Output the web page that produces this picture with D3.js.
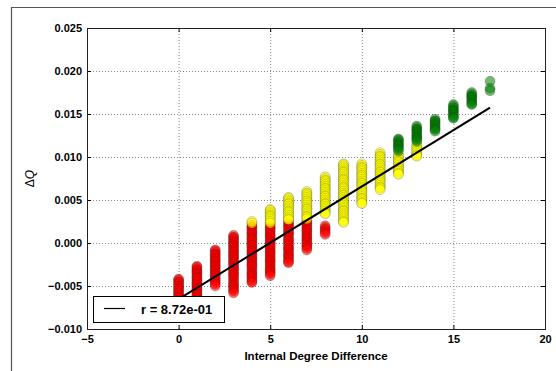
<!DOCTYPE html>
<meta charset="utf-8">
<script src="https://d3js.org/d3.v7.min.js"></script>
<style>
  body { margin: 0; background: #fff; }
  text { font-family: "Liberation Sans", Arial, sans-serif; }
</style>
<div id="chart"></div>
<script>

// x categories (internal degree difference)
var degreeDiff = [0, 1, 2, 3, 4, 5, 6, 7, 8, 9, 10, 11, 12, 13, 14, 15, 16, 17];

// delta Q values per column, one list per colour group
var redQ = [
  [-0.0042, -0.0043, -0.0045, -0.0046, -0.0048, -0.0050, -0.0051, -0.0053, -0.0054, -0.0056, -0.0058, -0.0059, -0.0061, -0.0063, -0.0064, -0.0066, -0.0068],
  [-0.0027, -0.0028, -0.0030, -0.0032, -0.0033, -0.0035, -0.0036, -0.0038, -0.0040, -0.0041, -0.0043, -0.0045, -0.0046, -0.0048, -0.0049, -0.0051, -0.0053, -0.0054, -0.0056, -0.0058, -0.0060, -0.0061, -0.0063, -0.0065, -0.0066],
  [-0.0008, -0.0009, -0.0011, -0.0013, -0.0014, -0.0016, -0.0018, -0.0019, -0.0021, -0.0022, -0.0024, -0.0026, -0.0027, -0.0029, -0.0031, -0.0032, -0.0034, -0.0036, -0.0037, -0.0039, -0.0041, -0.0043, -0.0044, -0.0046, -0.0048, -0.0050],
  [0.0009, 0.0007, 0.0006, 0.0004, 0.0002, 0.0001, -0.0001, -0.0003, -0.0004, -0.0006, -0.0008, -0.0010, -0.0011, -0.0013, -0.0015, -0.0016, -0.0018, -0.0020, -0.0022, -0.0023, -0.0025, -0.0027, -0.0029, -0.0030, -0.0032, -0.0034, -0.0036, -0.0037, -0.0039, -0.0041, -0.0043, -0.0045, -0.0047, -0.0049, -0.0050, -0.0052, -0.0054, -0.0056, -0.0058],
  [0.0021, 0.0019, 0.0018, 0.0016, 0.0014, 0.0012, 0.0011, 0.0009, 0.0007, 0.0005, 0.0004, 0.0002, 0.0000, -0.0002, -0.0003, -0.0005, -0.0007, -0.0009, -0.0010, -0.0012, -0.0014, -0.0016, -0.0018, -0.0019, -0.0021, -0.0023, -0.0025, -0.0026, -0.0028, -0.0030, -0.0032, -0.0034, -0.0036, -0.0037, -0.0039, -0.0041, -0.0043, -0.0045, -0.0046],
  [0.0022, 0.0020, 0.0018, 0.0017, 0.0015, 0.0013, 0.0011, 0.0009, 0.0008, 0.0006, 0.0004, 0.0002, 0.0000, -0.0001, -0.0003, -0.0005, -0.0007, -0.0009, -0.0010, -0.0012, -0.0014, -0.0016, -0.0018, -0.0020, -0.0021, -0.0023, -0.0025, -0.0027, -0.0029, -0.0031, -0.0032, -0.0034, -0.0036, -0.0038],
  [0.0025, 0.0023, 0.0021, 0.0020, 0.0018, 0.0016, 0.0014, 0.0012, 0.0011, 0.0009, 0.0007, 0.0005, 0.0003, 0.0002, 0.0000, -0.0002, -0.0004, -0.0006, -0.0007, -0.0009, -0.0011, -0.0013, -0.0015, -0.0016, -0.0018, -0.0020, -0.0022, -0.0023],
  [0.0026, 0.0024, 0.0023, 0.0021, 0.0019, 0.0017, 0.0015, 0.0014, 0.0012, 0.0010, 0.0008, 0.0006, 0.0005, 0.0003, 0.0001, -0.0001, -0.0003, -0.0004, -0.0006, -0.0008],
  [0.0020, 0.0018, 0.0016, 0.0014, 0.0012, 0.0010],
  [], [], [], [], [], [], [], [], []
];

var yellowQ = [
  [], [], [], [],
  [0.0025, 0.0023],
  [0.0039, 0.0038, 0.0036, 0.0034, 0.0032, 0.0031, 0.0029, 0.0027, 0.0025, 0.0023],
  [0.0053, 0.0052, 0.0050, 0.0048, 0.0046, 0.0045, 0.0043, 0.0041, 0.0039, 0.0037, 0.0036, 0.0034, 0.0032, 0.0030, 0.0028, 0.0027],
  [0.0060, 0.0058, 0.0057, 0.0055, 0.0053, 0.0051, 0.0049, 0.0048, 0.0046, 0.0044, 0.0042, 0.0040, 0.0039, 0.0037, 0.0035, 0.0033, 0.0031, 0.0030, 0.0028],
  [0.0077, 0.0075, 0.0073, 0.0072, 0.0070, 0.0068, 0.0066, 0.0064, 0.0063, 0.0061, 0.0059, 0.0057, 0.0055, 0.0054, 0.0052, 0.0050, 0.0048, 0.0046, 0.0045, 0.0043, 0.0041, 0.0039, 0.0037, 0.0035, 0.0034],
  [0.0092, 0.0091, 0.0089, 0.0087, 0.0085, 0.0083, 0.0082, 0.0080, 0.0078, 0.0076, 0.0074, 0.0073, 0.0071, 0.0069, 0.0067, 0.0065, 0.0064, 0.0062, 0.0060, 0.0058, 0.0056, 0.0055, 0.0053, 0.0051, 0.0049, 0.0047, 0.0046, 0.0044, 0.0042, 0.0040, 0.0038, 0.0037, 0.0035, 0.0033, 0.0031, 0.0029, 0.0027, 0.0025, 0.0024],
  [0.0092, 0.0090, 0.0088, 0.0087, 0.0085, 0.0083, 0.0081, 0.0079, 0.0078, 0.0076, 0.0074, 0.0072, 0.0070, 0.0069, 0.0067, 0.0065, 0.0063, 0.0061, 0.0060, 0.0058, 0.0056, 0.0054, 0.0052, 0.0051, 0.0049, 0.0047, 0.0046],
  [0.0105, 0.0103, 0.0101, 0.0100, 0.0098, 0.0096, 0.0094, 0.0092, 0.0091, 0.0089, 0.0087, 0.0085, 0.0083, 0.0082, 0.0080, 0.0078, 0.0076, 0.0074, 0.0073, 0.0071, 0.0069, 0.0067, 0.0065, 0.0064, 0.0062],
  [0.0103, 0.0101, 0.0099, 0.0097, 0.0095, 0.0094, 0.0092, 0.0090, 0.0088, 0.0086, 0.0084, 0.0083, 0.0081, 0.0080],
  [0.0114, 0.0112, 0.0110, 0.0108, 0.0106, 0.0104, 0.0102, 0.0101],
  [], [], [], []
];

var greenQ = [
  [], [], [], [], [], [], [], [], [], [], [], [],
  [0.0121, 0.0120, 0.0118, 0.0116, 0.0114, 0.0113, 0.0111, 0.0109, 0.0107],
  [0.0136, 0.0134, 0.0132, 0.0131, 0.0129, 0.0127, 0.0125, 0.0123, 0.0122, 0.0120, 0.0118],
  [0.0144, 0.0142, 0.0141, 0.0139, 0.0137, 0.0135, 0.0133, 0.0132, 0.0130],
  [0.0161, 0.0159, 0.0157, 0.0155, 0.0154, 0.0152, 0.0150, 0.0148, 0.0146, 0.0145],
  [0.0175, 0.0173, 0.0171, 0.0170, 0.0168, 0.0166, 0.0164, 0.0162, 0.0161],
  [0.0188, 0.0180, 0.0177]
];

// fitted line
var fitSlope = 0.00131;
var fitIntercept = -0.00652;
var fitRange = [0, 17];
var fitLabel = "r = 8.72e-01";

var xTicks = [-5, 0, 5, 10, 15, 20];
var yTicks = [-0.010, -0.005, 0.000, 0.005, 0.010, 0.015, 0.020, 0.025];

var W = 556, H = 371;
var margin = {top: 28, right: 11, bottom: 42, left: 87},
  width = W - margin.left - margin.right,
  height = H - margin.top - margin.bottom;

var root = d3.select("#chart").append("svg")
  .attr("width", W)
  .attr("height", H);

// figure frame
root.append("path")
  .attr("d", "M11.5," + H + "V7.5H" + W)
  .attr("fill", "none")
  .attr("stroke", "#555")
  .attr("stroke-width", 1.2);

var svg = root.append("g")
  .attr("transform", "translate(" + margin.left + "," + margin.top + ")");

var x = d3.scaleLinear().domain([-5, 20]).range([0, width]);
var y = d3.scaleLinear().domain([-0.010, 0.025]).range([height, 0]);

// grid
svg.append("g")
  .attr("class", "grid")
  .attr("transform", "translate(0," + height + ")")
  .call(d3.axisBottom(x).tickValues(xTicks).tickSize(-height).tickFormat(""))
svg.append("g")
  .attr("class", "grid")
  .call(d3.axisLeft(y).tickValues(yTicks).tickSize(-width).tickFormat(""))
svg.selectAll(".grid .domain").remove();
svg.selectAll(".grid line")
  .attr("stroke", "#888")
  .attr("stroke-width", 1)
  .attr("stroke-dasharray", "1,2");

// points
var groups = [
  {color: "red", values: redQ},
  {color: "yellow", values: yellowQ},
  {color: "green", values: greenQ}
];
groups.forEach(function(g) {
  var pts = [];
  g.values.forEach(function(col, i) {
    col.forEach(function(q) { pts.push({x: degreeDiff[i], q: q}); });
  });
  svg.append("g").selectAll("circle")
    .data(pts)
    .enter()
    .append("circle")
      .attr("cx", function(d) { return x(d.x); })
      .attr("cy", function(d) { return y(d.q); })
      .attr("r", 5)
      .attr("fill", g.color)
      .attr("fill-opacity", 0.55)
      .attr("stroke", "black")
      .attr("stroke-opacity", 0.18)
      .attr("stroke-width", 1);
});

// fit line
svg.append("line")
  .attr("x1", x(fitRange[0]))
  .attr("y1", y(fitIntercept + fitSlope * fitRange[0]))
  .attr("x2", x(fitRange[1]))
  .attr("y2", y(fitIntercept + fitSlope * fitRange[1]))
  .attr("stroke", "black")
  .attr("stroke-width", 2);

// axes with inward ticks on all sides
function styleAxis(sel) {
  sel.select(".domain").remove();
  sel.selectAll("line").attr("stroke", "#000");
  sel.selectAll("text")
    .attr("font-family", "Liberation Sans, Arial, sans-serif")
    .attr("font-weight", "bold")
    .attr("font-size", 11)
    .attr("fill", "#000");
}
var fmtY = d3.format(".3f");
svg.append("g")
  .attr("transform", "translate(0," + height + ")")
  .call(d3.axisBottom(x).tickValues(xTicks).tickSize(-4).tickPadding(6).tickFormat(d3.format("d")))
  .call(styleAxis);
svg.append("g")
  .call(d3.axisTop(x).tickValues(xTicks).tickSize(-4).tickFormat(""))
  .call(styleAxis);
svg.append("g")
  .call(d3.axisLeft(y).tickValues(yTicks).tickSize(-4).tickPadding(5).tickFormat(fmtY))
  .call(styleAxis);
svg.append("g")
  .attr("transform", "translate(" + width + ",0)")
  .call(d3.axisRight(y).tickValues(yTicks).tickSize(-4).tickFormat(""))
  .call(styleAxis);

// plot border
svg.append("rect")
  .attr("x", 0.5).attr("y", 0.5)
  .attr("width", width).attr("height", height)
  .attr("fill", "none")
  .attr("stroke", "#222")
  .attr("stroke-width", 1);

// axis labels
svg.append("text")
  .attr("x", width / 2)
  .attr("y", height + 31)
  .attr("text-anchor", "middle")
  .attr("font-weight", "bold")
  .attr("font-size", 11.5)
  .text("Internal Degree Difference");

var yl = root.append("text")
  .attr("transform", "translate(34," + (margin.top + height / 2) + ") rotate(-90)")
  .attr("text-anchor", "middle")
  .attr("font-family", "DejaVu Sans")
  .attr("font-size", 12);
yl.append("tspan").text("Δ");
yl.append("tspan").attr("font-style", "italic").text("Q");

// legend
var lg = root.append("g").attr("transform", "translate(93.5,296.5)");
lg.append("rect")
  .attr("width", 131).attr("height", 26)
  .attr("fill", "white")
  .attr("stroke", "black")
  .attr("stroke-width", 1);
lg.append("line")
  .attr("x1", 10.5).attr("x2", 31.5)
  .attr("y1", 12).attr("y2", 12)
  .attr("stroke", "black")
  .attr("stroke-width", 1.2);
lg.append("text")
  .attr("x", 47.5).attr("y", 17)
  .attr("font-weight", "bold")
  .attr("font-size", 13)
  .text(fitLabel);

</script>
